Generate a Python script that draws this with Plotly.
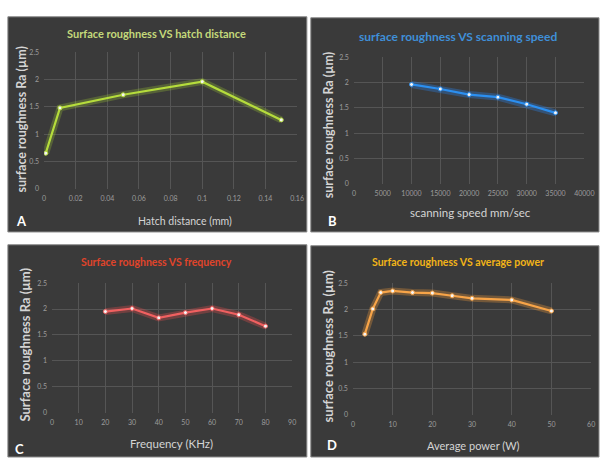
import plotly.graph_objects as go

W, H = 609, 460

# ---- data -------------------------------------------------------------
hatch_mm = [0.001, 0.01, 0.05, 0.1, 0.15]
ra_hatch = [0.65, 1.48, 1.72, 1.96, 1.26]

speed_mm_s = [10000, 15000, 20000, 25000, 30000, 35000]
ra_speed = [1.96, 1.87, 1.76, 1.71, 1.57, 1.40]

freq_khz = [20, 30, 40, 50, 60, 70, 80]
ra_freq = [1.95, 2.01, 1.83, 1.93, 2.01, 1.89, 1.67]

power_w = [3, 5, 7, 10, 15, 20, 25, 30, 40, 50]
ra_power = [1.53, 2.01, 2.32, 2.35, 2.32, 2.31, 2.26, 2.21, 2.18, 1.97]

titles = ["Surface roughness VS hatch distance",
          "surface roughness VS scanning speed",
          "Surface roughness VS frequency",
          "Surface roughness VS average power"]
x_titles = ["Hatch distance (mm)", "scanning speed mm/sec",
            "Frequency (KHz)", "Average power (W)"]
y_titles = ["surface roughness Ra (\u00b5m)", "surface roughness Ra (\u00b5m)",
            "Surface roughness Ra (\u00b5m)", "surface roughness Ra (\u00b5m)"]
letters = ["A", "B", "C", "D"]

# ---- styling / layout ---------------------------------------------------
FONT = "Lato"
PANEL = "#3a3a3a"
GRID = "#555555"
TICK = "#9c9c9c"
AXT = "#d4d4d4"

title_colors = ["#c4d97a", "#3f8fd8", "#e0442a", "#f2b418"]
line_colors = ["#b5dc3c", "#2b8ff0", "#f06060", "#f7a448"]
glow_colors = ["rgba(170,220,50,0.25)", "rgba(40,140,255,0.30)",
               "rgba(240,80,80,0.30)", "rgba(250,160,60,0.30)"]

title_sizes = [11, 12, 10.5, 10.5]
xt_sizes = [10.5, 11.5, 11.5, 11]
yt_sizes = [12.5, 12.5, 13, 13]

# panel rectangles in pixels (x0, y0, x1, y1)
panels = [(6, 12, 311, 231), (315, 13, 609, 231),
          (6, 244, 311, 460), (315, 245, 609, 460)]
# plot areas in pixels (x0, x1, ytop, ybottom)
plots = [(43, 301, 48, 187), (359, 594, 53, 182),
         (51, 296, 283, 415), (358, 601, 283, 417)]
x_ranges = [(0, 0.16), (0, 40000), (0, 90), (0, 60)]
x_dticks = [0.02, 5000, 10, 10]
x_formats = ["", "d", "", ""]
# text positions in pixels
title_pos = [(158, 29), (465, 32), (158, 262), (465, 262)]
xt_pos = [(187, 220), (478, 211), (173, 446), (481, 448)]
yt_pos = [(20, 117), (333, 122), (23, 346), (333, 347)]
letter_pos = [(20, 220), (337, 220), (18, 452), (337, 448)]

xs = [hatch_mm, speed_mm_s, freq_khz, power_w]
ys = [ra_hatch, ra_speed, ra_freq, ra_power]


def fx(px):
    return px / W


def fy(py):
    return 1 - py / H


fig = go.Figure()
shapes, annotations = [], []
layout_axes = {}

for i in range(4):
    n = "" if i == 0 else str(i + 1)
    xa, ya = "x" + n, "y" + n
    x0, x1, yt, yb = plots[i]

    layout_axes["xaxis" + n] = dict(
        domain=[fx(x0), fx(x1)], range=list(x_ranges[i]), dtick=x_dticks[i],
        tick0=0, tickformat=x_formats[i], showgrid=True, gridcolor=GRID,
        gridwidth=1, zeroline=False, showline=False, ticks="", anchor=ya,
        tickfont=dict(family=FONT, size=7, color=TICK),
        ticklabelstandoff=4, fixedrange=True)
    layout_axes["yaxis" + n] = dict(
        domain=[fy(yb), fy(yt)], range=[0, 2.5], dtick=0.5, tick0=0,
        showgrid=True, gridcolor=GRID, gridwidth=1, zeroline=False,
        showline=False, ticks="", anchor=xa,
        tickfont=dict(family=FONT, size=7, color=TICK),
        ticklabelstandoff=4, fixedrange=True)

    # soft halo under the line
    fig.add_trace(go.Scatter(
        x=xs[i], y=ys[i], mode="lines", xaxis=xa, yaxis=ya,
        line=dict(color=glow_colors[i], width=7), hoverinfo="skip",
        showlegend=False))
    fig.add_trace(go.Scatter(
        x=xs[i], y=ys[i], mode="lines+markers", xaxis=xa, yaxis=ya,
        line=dict(color=line_colors[i], width=2.2),
        marker=dict(size=4, color="#f4f4f4",
                    line=dict(color=line_colors[i], width=1)),
        showlegend=False))

    px0, py0, px1, py1 = panels[i]
    shapes.append(dict(type="rect", xref="paper", yref="paper", layer="below",
                       x0=fx(px0), x1=fx(px1), y0=fy(py1), y1=fy(py0),
                       fillcolor=PANEL, line=dict(color="#8a8a8a", width=1)))

    tx, ty = title_pos[i]
    annotations.append(dict(text="<b>%s</b>" % titles[i], x=fx(tx), y=fy(ty),
                            xref="paper", yref="paper", showarrow=False,
                            xanchor="center", yanchor="middle",
                            font=dict(family=FONT, size=title_sizes[i],
                                      color=title_colors[i])))
    ax_, ay_ = xt_pos[i]
    annotations.append(dict(text=x_titles[i], x=fx(ax_), y=fy(ay_),
                            xref="paper", yref="paper", showarrow=False,
                            xanchor="center", yanchor="middle",
                            font=dict(family=FONT, size=xt_sizes[i],
                                      color=AXT)))
    bx, by = yt_pos[i]
    annotations.append(dict(text="<b>%s</b>" % y_titles[i], x=fx(bx), y=fy(by),
                            xref="paper", yref="paper", showarrow=False,
                            textangle=-90, xanchor="center", yanchor="middle",
                            font=dict(family=FONT, size=yt_sizes[i],
                                      color=AXT)))
    lx, ly = letter_pos[i]
    annotations.append(dict(text="<b>%s</b>" % letters[i], x=fx(lx), y=fy(ly),
                            xref="paper", yref="paper", showarrow=False,
                            xanchor="center", yanchor="middle",
                            font=dict(family=FONT, size=13, color="#ffffff")))

fig.update_layout(
    width=W, height=H, margin=dict(l=0, r=0, t=0, b=0),
    paper_bgcolor="#ffffff", plot_bgcolor="rgba(0,0,0,0)",
    shapes=shapes, annotations=annotations, **layout_axes)

fig.write_html("out.html", config={"displayModeBar": False})
